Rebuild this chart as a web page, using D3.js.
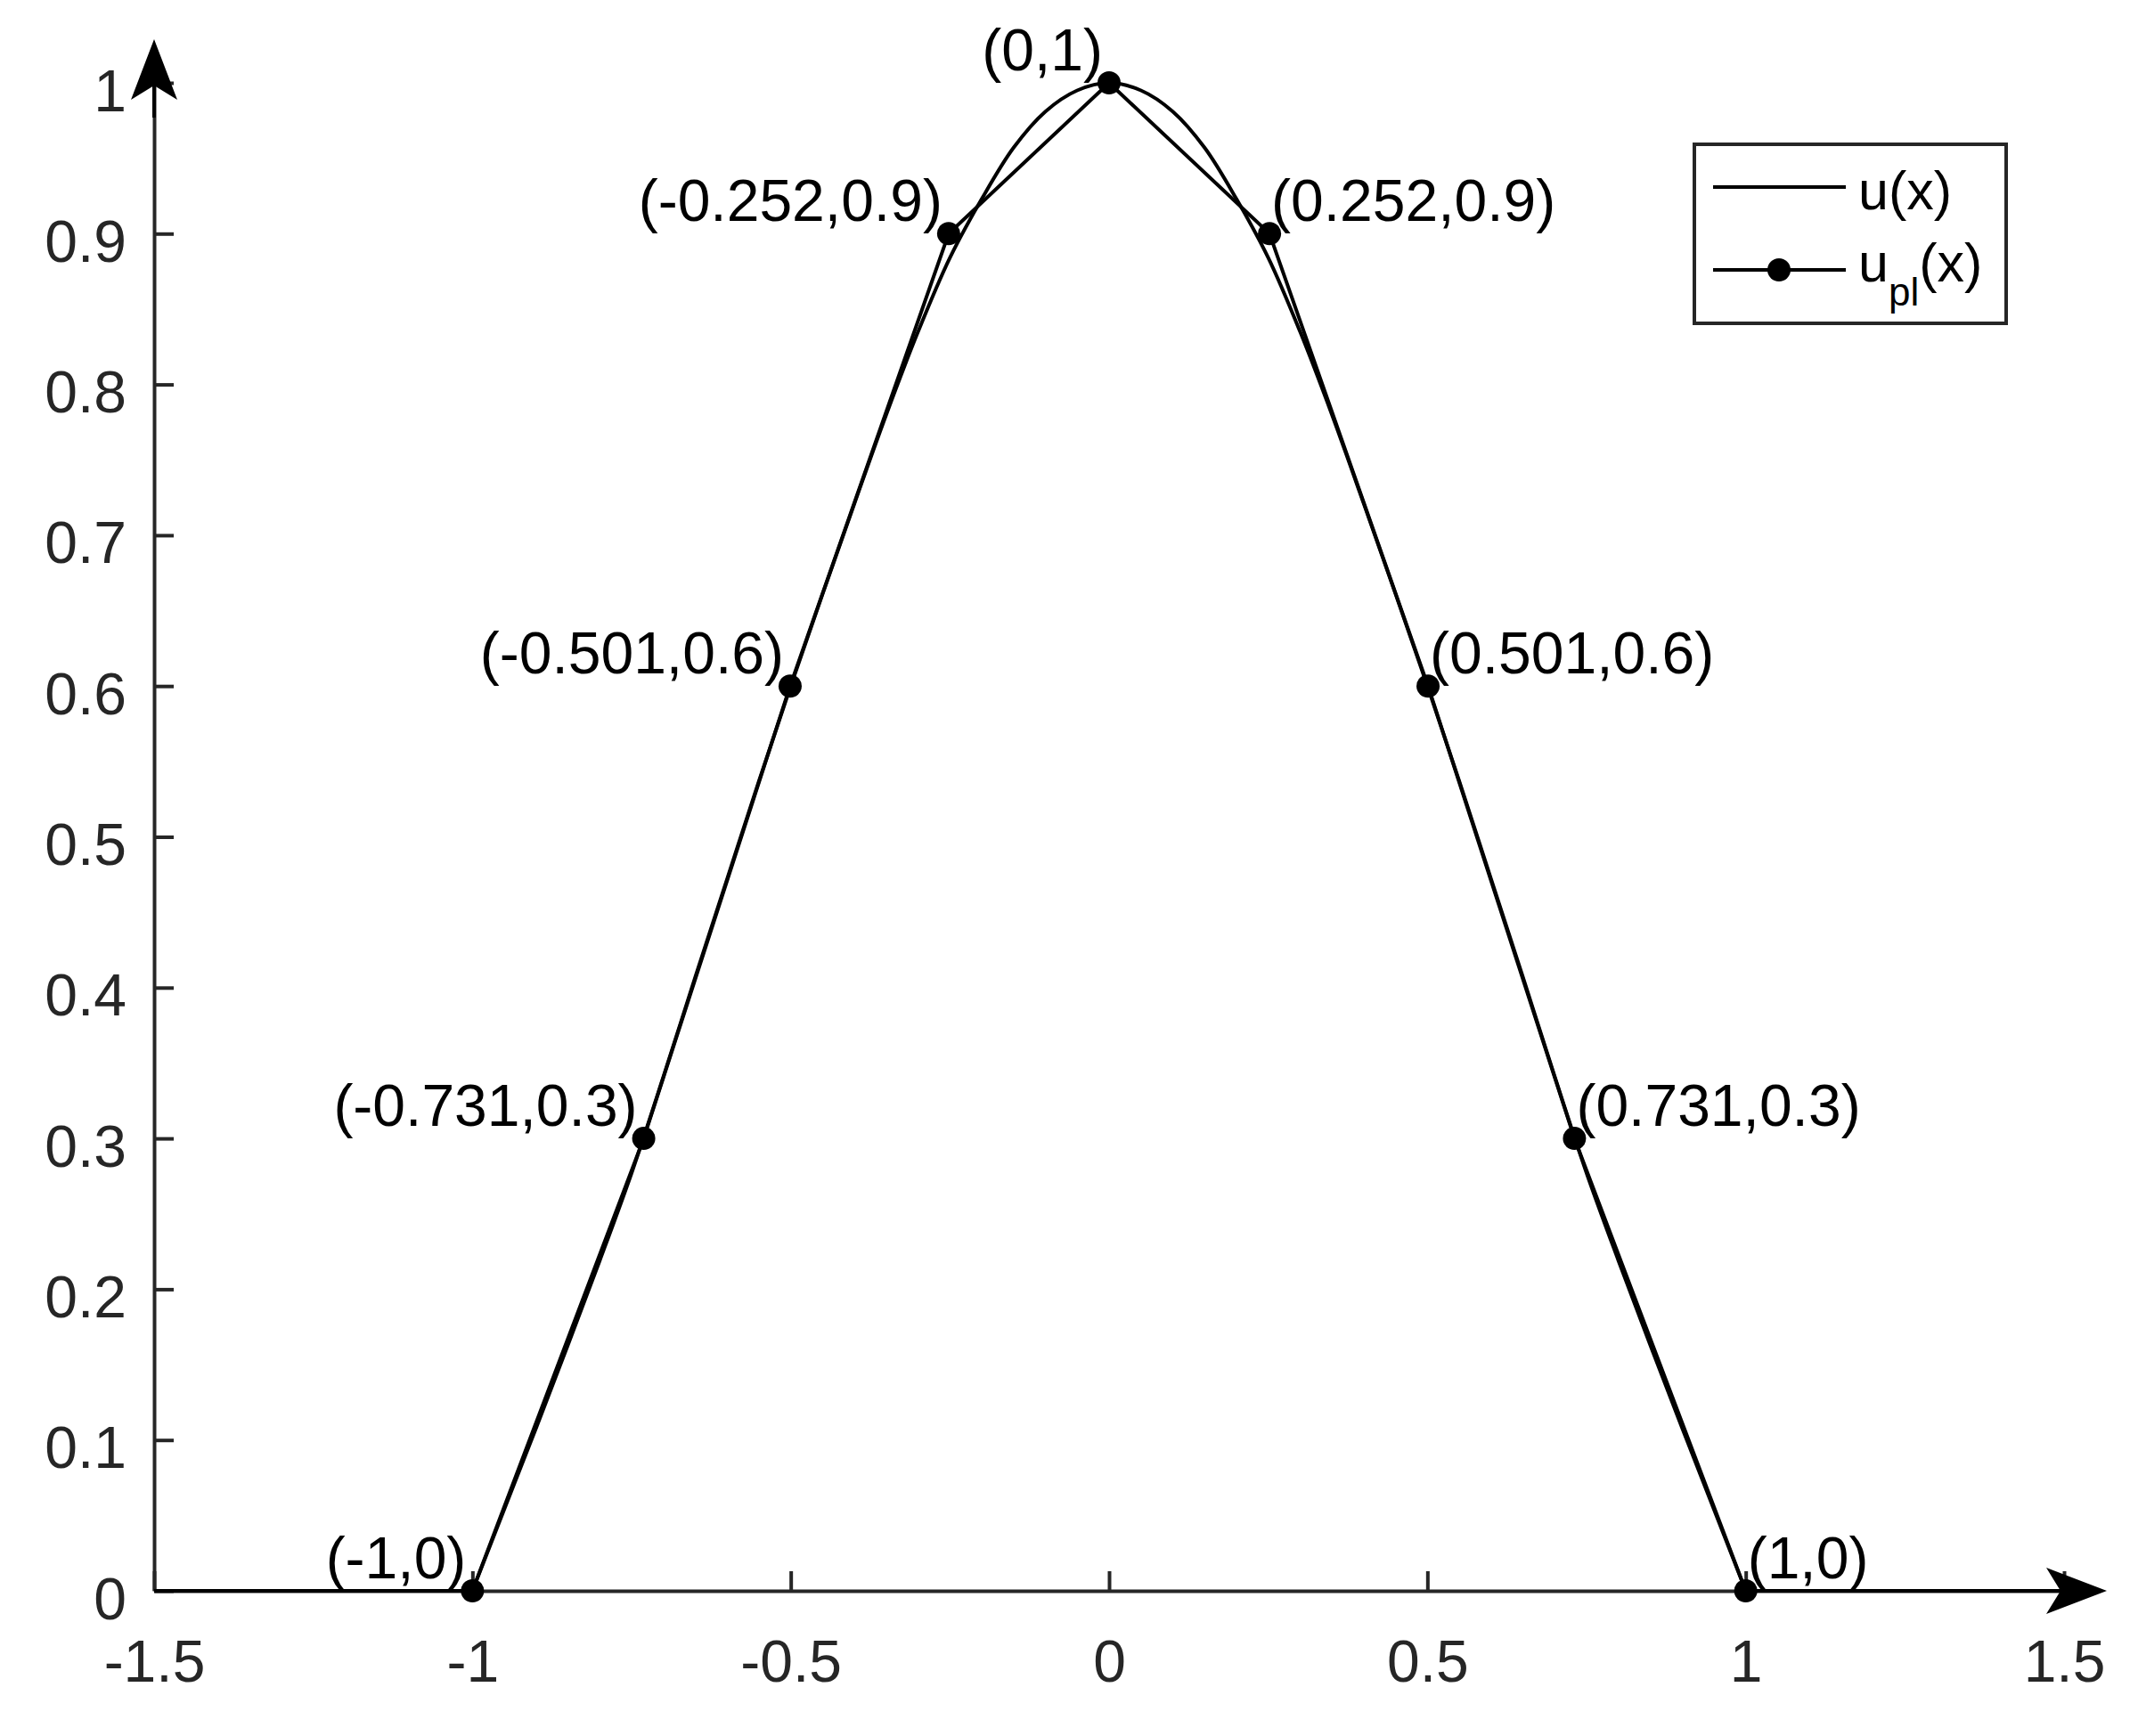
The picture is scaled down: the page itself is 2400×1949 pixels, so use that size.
<!DOCTYPE html>
<html>
<head>
<meta charset="utf-8">
<script src="https://cdn.jsdelivr.net/npm/d3@7"></script>
<style>
  html, body { margin: 0; padding: 0; background: #fff; }
  svg text { font-family: "Liberation Sans", Arial, Helvetica, sans-serif; }
</style>
</head>
<body>
<script>
// u(x) (zero outside [-1, 1])
const uX = [-1.5, -1,
  -0.95, -0.9, -0.85, -0.8, -0.75, -0.7, -0.65, -0.6, -0.55, -0.5,
  -0.45, -0.4, -0.35, -0.3, -0.25, -0.2, -0.15, -0.1, -0.05, 0,
  0.05, 0.1, 0.15, 0.2, 0.25, 0.3, 0.35, 0.4, 0.45, 0.5,
  0.55, 0.6, 0.65, 0.7, 0.75, 0.8, 0.85, 0.9, 0.95, 1, 1.5];
const uY = [0, 0,
  0.054, 0.108, 0.163, 0.219, 0.277, 0.341, 0.407, 0.472, 0.537, 0.600,
  0.661, 0.721, 0.780, 0.835, 0.884, 0.923, 0.957, 0.981, 0.995, 1.000,
  0.995, 0.981, 0.957, 0.923, 0.884, 0.835, 0.780, 0.721, 0.661, 0.600,
  0.537, 0.472, 0.407, 0.341, 0.277, 0.219, 0.163, 0.108, 0.054, 0, 0];

// piecewise linear nodes
const nodeX = [-1, -0.731, -0.501, -0.252, 0, 0.252, 0.501, 0.731, 1];
const nodeY = [0, 0.3, 0.6, 0.9, 1, 0.9, 0.6, 0.3, 0];
const nodeLabels = ["(-1,0)", "(-0.731,0.3)", "(-0.501,0.6)", "(-0.252,0.9)", "(0,1)",
  "(0.252,0.9)", "(0.501,0.6)", "(0.731,0.3)", "(1,0)"];

const xTicks = [-1.5, -1, -0.5, 0, 0.5, 1, 1.5];
const yTicks = [0, 0.1, 0.2, 0.3, 0.4, 0.5, 0.6, 0.7, 0.8, 0.9, 1];

const width = 2400, height = 1949;
const axisColor = "#262626";
const fontSize = 66;

const x = d3.scaleLinear().domain([-1.5, 1.5]).range([173, 2317]);
const y = d3.scaleLinear().domain([0, 1]).range([1786, 93]);

const svg = d3.select("body").append("svg")
  .attr("width", width)
  .attr("height", height);

// axes
const xAxis = svg.append("g")
  .attr("transform", `translate(0,${y(0)})`)
  .call(d3.axisBottom(x).tickValues(xTicks).tickFormat(d => String(d))
    .tickSizeInner(-22).tickSizeOuter(0));
const yAxis = svg.append("g")
  .attr("transform", `translate(${x(-1.5)},0)`)
  .call(d3.axisLeft(y).tickValues(yTicks).tickFormat(d => String(d))
    .tickSizeInner(-22).tickSizeOuter(0));

[xAxis, yAxis].forEach(g => {
  g.attr("font-size", null).attr("font-family", null);
  g.select(".domain").attr("stroke", axisColor).attr("stroke-width", 4);
  g.selectAll(".tick line").attr("stroke", axisColor).attr("stroke-width", 4);
  g.selectAll(".tick text").attr("fill", axisColor).style("font-size", fontSize + "px");
});
xAxis.selectAll(".tick text").attr("y", 102).attr("dy", 0);
yAxis.selectAll(".tick text").attr("x", -31).attr("dy", 31);

// u(x): flat tails straight, the bump smooth
const pts = uX.map((d, i) => [d, uY[i]]);
const bump = pts.filter(p => p[0] >= -1 && p[0] <= 1);
const smooth = d3.line().x(d => x(d[0])).y(d => y(d[1])).curve(d3.curveCatmullRom.alpha(0.5));
const straight = d3.line().x(d => x(d[0])).y(d => y(d[1]));

svg.append("path").attr("d", straight(pts.filter(p => p[0] <= -1)))
  .attr("fill", "none").attr("stroke", "#000").attr("stroke-width", 4);
svg.append("path").attr("d", straight(pts.filter(p => p[0] >= 1)))
  .attr("fill", "none").attr("stroke", "#000").attr("stroke-width", 4);
svg.append("path").attr("d", smooth(bump))
  .attr("fill", "none").attr("stroke", "#000").attr("stroke-width", 4)
  .attr("stroke-linejoin", "round");

// arrows on the axes
const arrowLen = 68, arrowHalf = 26, notch = 16;
svg.append("line")
  .attr("x1", x(1.5)).attr("x2", x(1.5) + 10)
  .attr("y1", y(0)).attr("y2", y(0))
  .attr("stroke", "#000").attr("stroke-width", 4);
const xTip = x(1.5) + 48;
svg.append("path")
  .attr("d", `M${xTip},${y(0)} L${xTip - arrowLen},${y(0) - arrowHalf} L${xTip - arrowLen + notch},${y(0)} L${xTip - arrowLen},${y(0) + arrowHalf} Z`)
  .attr("fill", "#000");
const yTip = 44;
svg.append("line")
  .attr("x1", x(-1.5)).attr("x2", x(-1.5))
  .attr("y1", 132).attr("y2", yTip + arrowLen - notch)
  .attr("stroke", "#000").attr("stroke-width", 4);
svg.append("path")
  .attr("d", `M${x(-1.5)},${yTip} L${x(-1.5) - arrowHalf},${yTip + arrowLen} L${x(-1.5)},${yTip + arrowLen - notch} L${x(-1.5) + arrowHalf},${yTip + arrowLen} Z`)
  .attr("fill", "#000");

// u_pl(x)
const nodes = nodeX.map((d, i) => ({ x: d, y: nodeY[i], label: nodeLabels[i] }));
svg.append("path")
  .attr("d", d3.line().x(d => x(d.x)).y(d => y(d.y))(nodes))
  .attr("fill", "none").attr("stroke", "#000").attr("stroke-width", 4);
svg.append("g").selectAll("circle")
  .data(nodes)
  .join("circle")
  .attr("cx", d => x(d.x))
  .attr("cy", d => y(d.y))
  .attr("r", 13)
  .attr("fill", "#000");

svg.append("g").selectAll("text")
  .data(nodes)
  .join("text")
  .attr("x", d => d.x > 0 ? x(d.x) + 2 : x(d.x) - 7)
  .attr("y", d => y(d.y) - 14)
  .attr("text-anchor", d => d.x > 0 ? "start" : "end")
  .style("font-size", fontSize + "px")
  .attr("fill", "#000")
  .text(d => d.label);

// legend
const legend = svg.append("g");
legend.append("rect")
  .attr("x", 1902).attr("y", 162).attr("width", 350).attr("height", 201)
  .attr("fill", "#fff").attr("stroke", axisColor).attr("stroke-width", 4);
legend.append("line")
  .attr("x1", 1923).attr("x2", 2072).attr("y1", 210).attr("y2", 210)
  .attr("stroke", "#000").attr("stroke-width", 4);
legend.append("text")
  .attr("x", 2086).attr("y", 235)
  .style("font-size", "61px")
  .text("u(x)");
legend.append("line")
  .attr("x1", 1923).attr("x2", 2072).attr("y1", 303).attr("y2", 303)
  .attr("stroke", "#000").attr("stroke-width", 4);
legend.append("circle")
  .attr("cx", 1997).attr("cy", 303).attr("r", 13).attr("fill", "#000");
const t2 = legend.append("text").attr("x", 2086).attr("y", 316).style("font-size", "61px");
t2.append("tspan").text("u");
t2.append("tspan").attr("dy", 27).style("font-size", "44px").text("pl");
t2.append("tspan").attr("dy", -27).text("(x)");
</script>
</body>
</html>
